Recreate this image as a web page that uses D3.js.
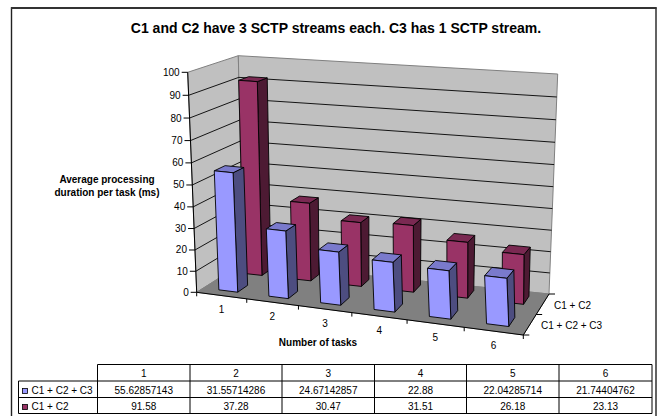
<!DOCTYPE html>
<html>
<head>
<meta charset="utf-8">
<script src="https://cdn.jsdelivr.net/npm/d3@7/dist/d3.min.js"></script>
<style>
html,body{margin:0;padding:0;background:#fff}
svg{display:block}
text{font-family:"Liberation Sans",Arial,sans-serif;fill:#000}
</style>
</head>
<body>
<svg id="chart" width="659" height="416"></svg>
<script>
const titleText = "C1 and C2 have 3 SCTP streams each. C3 has 1 SCTP stream.";
const yAxisLines = ["Average processing", "duration per task (ms)"];
const xAxisTitle = "Number of tasks";
const categories = ["1", "2", "3", "4", "5", "6"];
const valueTicks = [0, 10, 20, 30, 40, 50, 60, 70, 80, 90, 100];
const seriesNames = ["C1 + C2 + C3", "C1 + C2"];
const seriesC1C2C3 = [55.62857143, 31.55714286, 24.67142857, 22.88, 22.04285714, 21.74404762];
const seriesC1C2 = [91.58, 37.28, 30.47, 31.51, 26.18, 23.13];

const svg = d3.select("#chart");

// Plot box corners on screen: f/b = front/back, l/r = left/right, 0/1 = floor/top.
const box = {
  fl0: [196.7, 292.3], fl1: [187.7, 72.3],
  fr0: [523.3, 335.0], fr1: [511.0, 102.0],
  bl0: [243.0, 263.0], bl1: [238.3, 55.7],
  br0: [549.0, 294.0], br1: [557.7, 74.0]
};

// Perspective foreshortening along an axis.
const persp = (t, w) => t / (t + w * (1 - t));
const xScale = d3.scaleLinear().domain([0, 6]).range([0, 1]);
const yScale = d3.scaleLinear().domain([0, 100]).range([0, 1]);
const zScale = d3.scaleLinear().domain([0, 2]).range([0, 1]);
const lerp = (a, b, t) => [a[0] + (b[0] - a[0]) * t, a[1] + (b[1] - a[1]) * t];

// Projects (category position, value, series depth) into the box.
function project(c, v, d) {
  const u = persp(xScale(c), 1.105), h = persp(yScale(v), 1.05), z = zScale(d);
  const front = lerp(lerp(box.fl0, box.fr0, u), lerp(box.fl1, box.fr1, u), h);
  const back = lerp(lerp(box.bl0, box.br0, u), lerp(box.bl1, box.br1, u), h);
  return lerp(front, back, z);
}
const poly = pts => "M" + pts.map(p => p[0].toFixed(2) + "," + p[1].toFixed(2)).join("L") + "Z";
const seg = (a, b) => "M" + a[0].toFixed(2) + "," + a[1].toFixed(2) + "L" + b[0].toFixed(2) + "," + b[1].toFixed(2);

// Outer chart frame; its bottom edge runs past the page
const frame = svg.append("g").attr("fill", "none").attr("stroke", "#222");
frame.append("path").attr("d", "M11.5,420V8H656V420").attr("stroke-width", 1.4);
frame.append("path").attr("d", "M11,8H656.5").attr("stroke-width", 2).attr("stroke", "#333");

svg.append("text").attr("x", 336).attr("y", 33).attr("text-anchor", "middle")
  .attr("font-size", 14).attr("font-weight", "bold").text(titleText);

const walls = svg.append("g");
const wallStroke = "#808080";
// Side wall, back wall, floor
walls.append("path").attr("d", poly([project(0,0,0), project(0,100,0), project(0,100,2), project(0,0,2)]))
  .attr("fill", "#c0c0c0").attr("stroke", wallStroke);
walls.append("path").attr("d", poly([project(0,0,2), project(0,100,2), project(6,100,2), project(6,0,2)]))
  .attr("fill", "#c0c0c0").attr("stroke", wallStroke);
walls.append("path").attr("d", poly([project(0,0,0), project(0,0,2), project(6,0,2), project(6,0,0)]))
  .attr("fill", "#808080").attr("stroke", "#808080");

// Gridlines across side and back walls
const grid = svg.append("g").attr("fill", "none").attr("stroke", "#000").attr("stroke-width", 0.9);
valueTicks.filter(v => v > 0 && v < 100).forEach(v => {
  grid.append("path").attr("d", "M" + [project(0,v,0), project(0,v,2), project(6,v,2)]
    .map(p => p[0].toFixed(2) + "," + p[1].toFixed(2)).join("L"));
});

// Axes
const axes = svg.append("g").attr("fill", "none").attr("stroke", "#000").attr("stroke-width", 1);
axes.append("path").attr("d", seg(project(0,0,0), project(0,100,0)));
axes.append("path").attr("d", seg(project(0,0,0), project(6,0,0)));
axes.append("path").attr("d", seg(project(6,0,0), project(6,0,2)));
valueTicks.forEach(v => {
  const p = project(0, v, 0);
  axes.append("path").attr("d", seg(p, [p[0] - 6, p[1]]));
  svg.append("text").attr("x", p[0] - 8).attr("y", p[1] + 3.5).attr("text-anchor", "end")
    .attr("font-size", 10).text(v);
});
d3.range(0, 7).forEach(i => {
  const p = project(i, 0, 0);
  axes.append("path").attr("d", seg(p, [p[0], p[1] + 4]));
});
d3.range(0, 3).forEach(i => {
  const p = project(6, 0, i);
  axes.append("path").attr("d", seg(p, [p[0] + 6, p[1]]));
});

categories.forEach((c, i) => {
  const p = project(i + 0.5, 0, 0);
  svg.append("text").attr("x", p[0]).attr("y", p[1] + 17.7).attr("text-anchor", "middle")
    .attr("font-size", 10).text(c);
});
svg.append("text").attr("x", 318).attr("y", 346.3).attr("text-anchor", "middle")
  .attr("font-size", 10).attr("font-weight", "bold").text(xAxisTitle);
yAxisLines.forEach((t, i) => {
  svg.append("text").attr("x", 107).attr("y", 182.5 + i * 13.5).attr("text-anchor", "middle")
    .attr("font-size", 10).attr("font-weight", "bold").text(t);
});
svg.append("text").attr("x", 554).attr("y", 309).attr("font-size", 10).text(seriesNames[1]);
svg.append("text").attr("x", 541).attr("y", 329).attr("font-size", 10).text(seriesNames[0]);

// 3D columns, back series first
const barStyles = [
  { front: "#9999ff", side: "#4d4d80", top: "#7a7acc" },
  { front: "#993366", side: "#4d1a33", top: "#7a2952" }
];
const barInset = 0.31;
const depthSpan = [[0.3, 0.75], [1.4, 1.8]];
const bars = svg.append("g").attr("stroke", "#000").attr("stroke-width", 0.9).attr("stroke-linejoin", "round");
function drawBar(cat, val, s) {
  const x0 = cat + barInset, x1 = cat + 1 - barInset, z0 = depthSpan[s][0], z1 = depthSpan[s][1];
  const st = barStyles[s];
  const g = bars.append("g");
  g.append("path").attr("fill", st.side)
    .attr("d", poly([project(x1,0,z0), project(x1,val,z0), project(x1,val,z1), project(x1,0,z1)]));
  g.append("path").attr("fill", st.top)
    .attr("d", poly([project(x0,val,z0), project(x1,val,z0), project(x1,val,z1), project(x0,val,z1)]));
  g.append("path").attr("fill", st.front)
    .attr("d", poly([project(x0,0,z0), project(x0,val,z0), project(x1,val,z0), project(x1,0,z0)]));
}
// Drawn back to front so nearer columns overlap
seriesC1C2.forEach((v, i) => drawBar(i, v, 1));
seriesC1C2C3.forEach((v, i) => drawBar(i, v, 0));

// Data table beneath the plot
const colEdges = [18.5, 97.5, 190, 282, 374.5, 466.5, 559, 652];
const rowEdges = [364.5, 381, 397.5, 413.5];
const rowBaselines = [394, 410];
const table = svg.append("g").attr("stroke", "#000").attr("stroke-width", 1).attr("fill", "none");
table.append("path").attr("d", "M" + colEdges[1] + "," + rowEdges[0] + "H" + colEdges[7] + "V" + rowEdges[3] + "H" + colEdges[0] + "V" + rowEdges[1] + "H" + colEdges[7]);
table.append("path").attr("d", "M" + colEdges[0] + "," + rowEdges[2] + "H" + colEdges[7]);
colEdges.slice(1, 7).forEach(x => table.append("path").attr("d", "M" + x + "," + rowEdges[0] + "V" + rowEdges[3]));

const cx = i => (colEdges[i + 1] + colEdges[i + 2]) / 2;
categories.forEach((c, i) => {
  svg.append("text").attr("x", cx(i)).attr("y", 377.3).attr("text-anchor", "middle").attr("font-size", 10).text(c);
});
[seriesC1C2C3, seriesC1C2].forEach((vals, r) => {
  const b = rowBaselines[r];
  svg.append("rect").attr("x", 22.5).attr("y", b - 5.5).attr("width", 5).attr("height", 5)
    .attr("fill", barStyles[r].front).attr("stroke", "#000").attr("stroke-width", 0.8);
  svg.append("text").attr("x", 31.5).attr("y", b).attr("font-size", 10).text(seriesNames[r]);
  vals.forEach((v, i) => {
    svg.append("text").attr("x", cx(i)).attr("y", b).attr("text-anchor", "middle").attr("font-size", 10).text(v);
  });
});
</script>
</body>
</html>
